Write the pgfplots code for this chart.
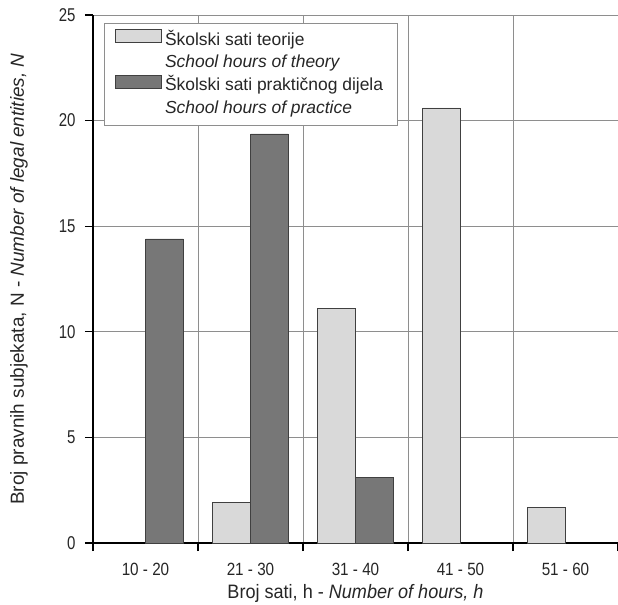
\documentclass[border=0pt]{standalone}
\usepackage{fontspec}
\setmainfont{Liberation Sans}
\newfontfamily\ytfont{Liberation Sans}[FakeStretch=0.81]
\newfontfamily\xtfont{Liberation Sans}[FakeStretch=0.86]
\newfontfamily\xlfont{Liberation Sans}[FakeStretch=0.93]
\usepackage{pgfplots}
\pgfplotsset{compat=1.18}
\definecolor{lightbar}{HTML}{D9D9D9}
\definecolor{darkbar}{HTML}{777777}
\definecolor{gridgray}{HTML}{8E8E8E}
\definecolor{txt}{HTML}{262626}
\begin{document}
\begin{tikzpicture}
\begin{axis}[
  scale only axis, width=525bp, height=528bp,
  xmin=-0.5, xmax=4.5, ymin=0, ymax=25,
  axis lines*=left,
  axis line style={black, line width=1.4pt},
  /pgf/number format/assume math mode=true,
  tick label style={txt},
  xtick={0,1,2,3,4},
  xticklabels={10 - 20, 21 - 30, 31 - 40, 41 - 50, 51 - 60},
  major x tick style={draw=none},
  minor xtick={-0.5,0.5,1.5,2.5,3.5,4.5},
  xminorgrids=true,
  ytick={0,5,10,15,20,25},
  ymajorgrids=true,
  grid style={gridgray, line width=0.8pt},
  minor grid style={gridgray, line width=0.8pt},
  tick align=outside,
  major tick length=8bp, minor tick length=8bp,
  every tick/.style={black, line width=1.2pt},
  xticklabel style={yshift=-9bp, font=\xtfont\fontsize{17.8}{20}\selectfont},
  yticklabel style={xshift=-6bp, font=\ytfont\fontsize{18.6}{20}\selectfont},
  xlabel={Broj sati, h - \textit{Number of hours, h}},
  ylabel={Broj pravnih subjekata, N - \textit{Number of legal entities, N}},
  every axis x label/.style={at={(axis description cs:0.5,0)}, anchor=base, yshift=-55bp, txt, font=\xlfont\fontsize{19.5}{22}\selectfont},
  every axis y label/.style={at={(axis description cs:0,0.5)}, rotate=90, anchor=base, yshift=69bp, txt, font=\fontsize{19}{21}\selectfont},
  legend cell align=left,
  legend style={at={(axis description cs:0.021,0.984)}, anchor=north west,
    draw=gridgray, line width=0.8pt, fill=white, text=txt,
    font=\fontsize{17.5}{22}\selectfont, inner xsep=11bp, inner ysep=5bp,
    row sep=0.5bp,
    nodes={text height=13bp, text depth=4bp, inner ysep=2.5bp, inner xsep=3bp}},
  legend image code/.code={\draw[#1, line width=0.6pt] (0bp,-1.5bp) rectangle (46bp,11.5bp);},
]
\coordinate (bl) at (rel axis cs:0,0);
\coordinate (tr) at (rel axis cs:1,1);
\addplot[ybar, bar width=0.36, bar shift=-0.18, fill=lightbar, draw=black!75, line width=0.6pt]
  coordinates {(1,1.93) (2,11.11) (3,20.6) (4,1.7)};
\addlegendentry{Školski sati teorije}
\addlegendimage{empty legend}
\addlegendentry{\textit{School hours of theory}}
\addplot[ybar, bar width=0.36, bar shift=0.18, fill=darkbar, draw=black!75, line width=0.6pt]
  coordinates {(0,14.4) (1,19.37) (2,3.1)};
\addlegendentry{Školski sati praktičnog dijela}
\addlegendimage{empty legend}
\addlegendentry{\textit{School hours of practice}}
\end{axis}
\pgfresetboundingbox
\path ([shift={(-93bp,-61bp)}]bl) rectangle ([shift={(0bp,15bp)}]tr);
\end{tikzpicture}
\end{document}
